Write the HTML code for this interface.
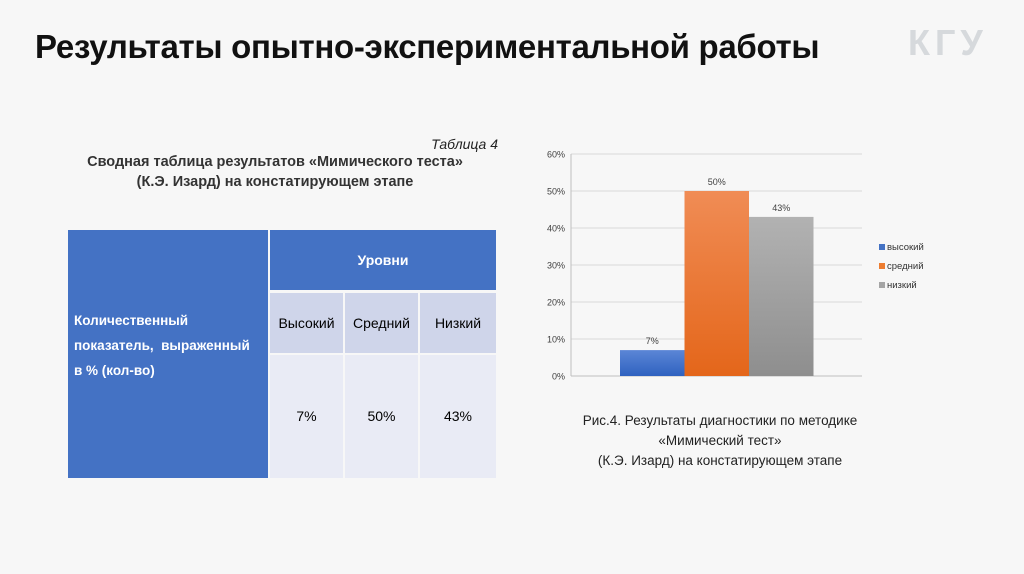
<!DOCTYPE html>
<html><head><meta charset="utf-8"><style>
body{margin:0;width:1024px;height:574px;background:#f7f7f7;font-family:"Liberation Sans","DejaVu Sans",sans-serif;position:relative;overflow:hidden}
.a{position:absolute}
#title{left:35px;top:28px;font-size:33px;font-weight:bold;color:#111;white-space:nowrap;letter-spacing:-0.3px}
#logo{left:908px;top:22px;font-size:36px;font-weight:bold;color:#d6d9dc;letter-spacing:5px}
.cap{font-size:13.5px;color:#222;text-align:center;line-height:20px}
</style></head><body>
<div class="a" id="title">Результаты опытно-экспериментальной работы</div>
<div class="a" id="logo">КГУ</div>
<div class="a cap" style="left:400px;top:134px;font-style:italic;text-align:right;width:98px;font-size:14px">Таблица 4</div>
<div class="a cap" style="left:50px;top:152px;width:450px;font-weight:bold;color:#333;font-size:14.5px">Сводная таблица результатов «Мимического теста»<br>(К.Э. Изард) на констатирующем этапе</div>

<div class="a" style="left:68px;top:230px;width:428px;height:248px">
 <div class="a" style="left:0;top:0;width:200px;height:248px;background:#4472c4;color:#fff;font-weight:bold;font-size:13.5px;line-height:25px"><div style="position:absolute;left:6px;top:78px;width:200px;white-space:nowrap">Количественный<br>показатель,&nbsp; выраженный<br>в % (кол-во)</div></div>
 <div class="a" style="left:202px;top:0;width:226px;height:60px;background:#4472c4;color:#fff;font-weight:bold;font-size:14px;line-height:60px;text-align:center">Уровни</div>
 <div class="a" style="left:202px;top:63px;width:73px;height:60px;background:#cfd5ea;font-size:14px;line-height:60px;text-align:center">Высокий</div>
 <div class="a" style="left:277px;top:63px;width:73px;height:60px;background:#cfd5ea;font-size:14px;line-height:60px;text-align:center">Средний</div>
 <div class="a" style="left:352px;top:63px;width:76px;height:60px;background:#cfd5ea;font-size:14px;line-height:60px;text-align:center">Низкий</div>
 <div class="a" style="left:202px;top:125px;width:73px;height:123px;background:#e9ebf5;font-size:14px;line-height:123px;text-align:center">7%</div>
 <div class="a" style="left:277px;top:125px;width:73px;height:123px;background:#e9ebf5;font-size:14px;line-height:123px;text-align:center">50%</div>
 <div class="a" style="left:352px;top:125px;width:76px;height:123px;background:#e9ebf5;font-size:14px;line-height:123px;text-align:center">43%</div>
</div>

<svg class="a" style="left:0;top:0" width="1024" height="574" id="chart">
<defs>
<linearGradient id="g0" x1="0" y1="0" x2="0" y2="1"><stop offset="0" stop-color="#5b86d6"/><stop offset="1" stop-color="#2f62c0"/></linearGradient>
<linearGradient id="g1" x1="0" y1="0" x2="0" y2="1"><stop offset="0" stop-color="#f08c55"/><stop offset="1" stop-color="#e4661a"/></linearGradient>
<linearGradient id="g2" x1="0" y1="0" x2="0" y2="1"><stop offset="0" stop-color="#b2b2b2"/><stop offset="1" stop-color="#8e8e8e"/></linearGradient>
</defs>
</svg>
<div class="a cap" style="left:540px;top:411px;width:360px">Рис.4. Результаты диагностики по методике<br>«Мимический тест»<br>(К.Э. Изард) на констатирующем этапе</div>
<script>
const categories=["высокий","средний","низкий"];
const values=[7,50,43];
const ticks=[0,10,20,30,40,50,60];
const colors=["url(#g0)","url(#g1)","url(#g2)"];
const legendColors=["#4472c4","#ed7d31","#a5a5a5"];
const svg=document.getElementById('chart');
const NS="http://www.w3.org/2000/svg";
const x0=571,x1=862,yTop=154,yBot=376,vmax=60;
const y=v=>yBot-(v/vmax)*(yBot-yTop);
const bw=64.5,bx0=620;
const xb=i=>bx0+i*bw;
function mk(t,a){const e=document.createElementNS(NS,t);for(const k in a)e.setAttribute(k,a[k]);svg.appendChild(e);return e;}
ticks.forEach(t=>{
 const l=mk('line',{x1:x0,x2:x1,y1:y(t),y2:y(t),stroke:t===0?'#bfbfbf':'#d9d9d9','stroke-width':1});
 
 
 const tx=mk('text',{x:x0-6,y:y(t)+3.5,'text-anchor':'end','font-size':9,fill:'#404040','font-family':'Liberation Sans,sans-serif'});
 tx.textContent=t+'%';
 
 
});
const ax=mk('line',{x1:x0,x2:x0,y1:yTop,y2:yBot,stroke:'#bfbfbf'});


values.forEach((v,i)=>{
 const r=mk('rect',{x:xb(i),y:y(v),width:bw,height:yBot-y(v),fill:colors[i]});
 
 
 const t=mk('text',{x:xb(i)+bw/2,y:y(v)-6,'text-anchor':'middle','font-size':9,fill:'#404040','font-family':'Liberation Sans,sans-serif'});
 t.textContent=v+'%';
 
 
});
categories.forEach((c,i)=>{
 const ly=250+i*19;
 const s=mk('rect',{x:879,y:ly-6,width:6,height:6,fill:legendColors[i]});
 
 
 const t=mk('text',{x:887,y:ly,'font-size':9.5,fill:'#333','font-family':'Liberation Sans,sans-serif'});
 t.textContent=c;
 
 
});
</script>
</body></html>
